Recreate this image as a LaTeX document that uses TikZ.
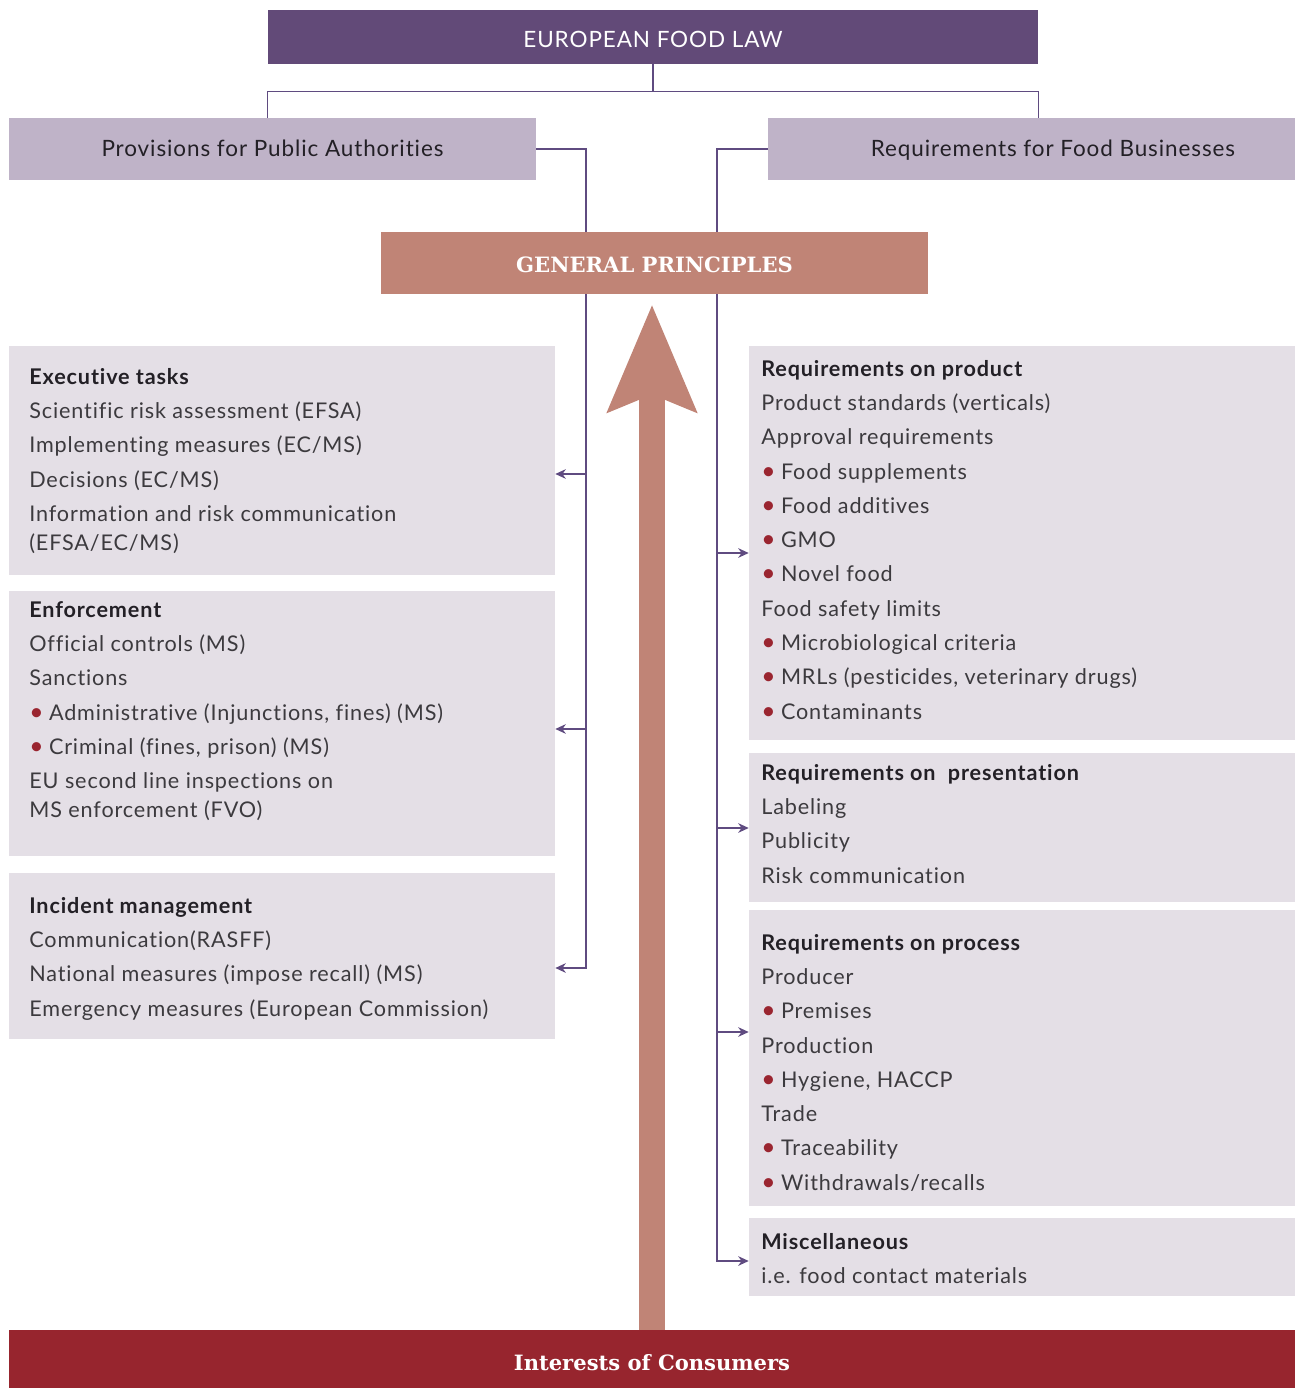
\documentclass[tikz,border=0pt]{standalone}
\usepackage{fontspec}
\setmainfont{Lato}
\newfontfamily\bodyfont{Lato}[LetterSpace=4, Ligatures=CommonOff]
\newfontfamily\slabfont{DejaVu Serif}
\usetikzlibrary{arrows.meta}

\definecolor{lawpurple}{RGB}{98,74,120}
\definecolor{headlilac}{RGB}{191,179,200}
\definecolor{principlerose}{RGB}{192,132,118}
\definecolor{panelgrey}{RGB}{228,223,230}
\definecolor{consumerred}{RGB}{151,37,46}
\definecolor{linkpurple}{RGB}{95,75,128}
\definecolor{bulletred}{RGB}{154,37,48}
\definecolor{textgrey}{RGB}{60,58,62}
\definecolor{headdark}{RGB}{35,32,38}

\newcommand{\rdot}{{\color{bulletred}\fontsize{14}{14}\selectfont\textbullet}\hspace{0.25em}}
\newcommand{\phead}[1]{\textcolor{headdark}{\textbf{#1}}}

\begin{document}
\begin{tikzpicture}[
        x=0.02cm, y=-0.02cm,
        lawbox/.style={rectangle, fill=lawpurple, text=white, minimum width=15.4cm, minimum height=1.08cm, text height=0.44cm, text depth=0cm, text centered, font=\bodyfont\fontsize{12.8}{14}\selectfont},
        sidebox/.style={rectangle, fill=headlilac, text=headdark, minimum width=10.54cm, minimum height=1.24cm, text height=0.32cm, text depth=0cm, text centered, font=\bodyfont\fontsize{12.8}{14}\selectfont},
        gpbox/.style={rectangle, fill=principlerose, text=white, minimum width=10.94cm, minimum height=1.24cm, text height=0.39cm, text depth=0cm, text centered, font=\slabfont\bfseries\fontsize{12}{14}\selectfont},
        panel/.style={rectangle, fill=panelgrey, minimum width=10.92cm},
        paneltext/.style={anchor=north west, inner sep=0pt, align=left, text=textgrey, font=\bodyfont\fontsize{12.3}{19.5}\selectfont},
        consumerbar/.style={rectangle, fill=consumerred, text=white, minimum width=25.72cm, minimum height=1.16cm, text height=0.44cm, text depth=0cm, text centered, font=\slabfont\bfseries\fontsize{12}{14}\selectfont},
        link/.style={draw=linkpurple, line width=0.8pt},
        tap/.style={link, -{Stealth[length=6pt, width=5.5pt]}},
        bigarrow/.style={draw=principlerose, line width=0.52cm, -{Stealth[length=2.12cm, width=1.72cm, inset=0.32cm]}}
    ]
        \useasboundingbox (0,0) rectangle (1295,1388);

        % Top of the tree
        \node[lawbox] (law) at (653,37) {EUROPEAN FOOD LAW};
        \node[sidebox] (authorities) at (272.5,149) {Provisions for Public Authorities};
        \node[sidebox] (business) at (1031.5,149) {\hspace{0.86cm}Requirements for Food Businesses};

        % Public authorities side
        \node[panel, minimum height=4.58cm] (exectasks) at (282,460.5) {};
        \node[panel, minimum height=5.3cm] (enforcement) at (282,723.5) {};
        \node[panel, minimum height=3.32cm] (incidents) at (282,956) {};

        % Food business side
        \node[panel, minimum height=7.88cm] (product) at (1022,543) {};
        \node[panel, minimum height=2.98cm] (presentation) at (1022,827.5) {};
        \node[panel, minimum height=5.92cm] (process) at (1022,1058) {};
        \node[panel, minimum height=1.56cm] (misc) at (1022,1257) {};

        % Panel texts
        \node[paneltext] (exectext) at (29,368) {\phead{Executive tasks}\\
            Scientific risk assessment (EFSA)\\
            Implementing measures (EC/MS)\\
            Decisions (EC/MS)\\
            Information and risk communication\\[-2.9pt]
            (EFSA/EC/MS)};
        \node[paneltext] (enforcetext) at (29,601) {\phead{Enforcement}\\
            Official controls (MS)\\
            Sanctions\\
            \rdot Administrative (Injunctions, fines) (MS)\\
            \rdot Criminal (fines, prison) (MS)\\
            EU second line inspections on\\[-2.9pt]
            MS enforcement (FVO)};
        \node[paneltext] (incidenttext) at (29,897) {\phead{Incident management}\\
            Communication(RASFF)\\
            National measures (impose recall) (MS)\\
            Emergency measures (European Commission)};
        \node[paneltext] (producttext) at (761,360) {\phead{Requirements on product}\\
            Product standards (verticals)\\
            Approval requirements\\
            \rdot Food supplements\\
            \rdot Food additives\\
            \rdot GMO\\
            \rdot Novel food\\
            Food safety limits\\
            \rdot Microbiological criteria\\
            \rdot MRLs (pesticides, veterinary drugs)\\
            \rdot Contaminants};
        \node[paneltext] (presenttext) at (761,764) {\phead{Requirements on\ \ presentation}\\
            Labeling\\
            Publicity\\
            Risk communication};
        \node[paneltext] (processtext) at (761,934) {\phead{Requirements on process}\\
            Producer\\
            \rdot Premises\\
            Production\\
            \rdot Hygiene, HACCP\\
            Trade\\
            \rdot Traceability\\
            \rdot Withdrawals/recalls};
        \node[paneltext] (misctext) at (761,1233) {\phead{Miscellaneous}\\
            i.e. food contact materials};

        % Tree connectors
        \draw[link] (law.south) -- ++(0,27) coordinate (lawjoin);
        \draw[link] (authorities.north -| law.west) |- (lawjoin) -| (business.north -| law.east);

        % Left spine
        \coordinate (ltap1) at (586,474);
        \coordinate (ltap2) at (586,729);
        \coordinate (ltap3) at (586,968);
        \draw[tap] (authorities.east) -| (ltap3) -- (ltap3 -| incidents.east);
        \draw[tap] (ltap1) -- (ltap1 -| exectasks.east);
        \draw[tap] (ltap2) -- (ltap2 -| enforcement.east);

        % Right spine
        \coordinate (rtap1) at (717,553);
        \coordinate (rtap2) at (717,828);
        \coordinate (rtap3) at (717,1032);
        \coordinate (rtap4) at (717,1261);
        \draw[tap] (business.west) -| (rtap4) -- (rtap4 -| misc.west);
        \draw[tap] (rtap1) -- (rtap1 -| product.west);
        \draw[tap] (rtap2) -- (rtap2 -| presentation.west);
        \draw[tap] (rtap3) -- (rtap3 -| process.west);

        % General principles and consumers
        \node[gpbox] (principles) at (654.5,263) {GENERAL PRINCIPLES};
        \node[consumerbar] (consumers) at (652,1359) {Interests of Consumers};
        \draw[bigarrow] (consumers.north) -- ([yshift=-0.2cm]consumers.north |- principles.south);

    \end{tikzpicture}
\end{document}
